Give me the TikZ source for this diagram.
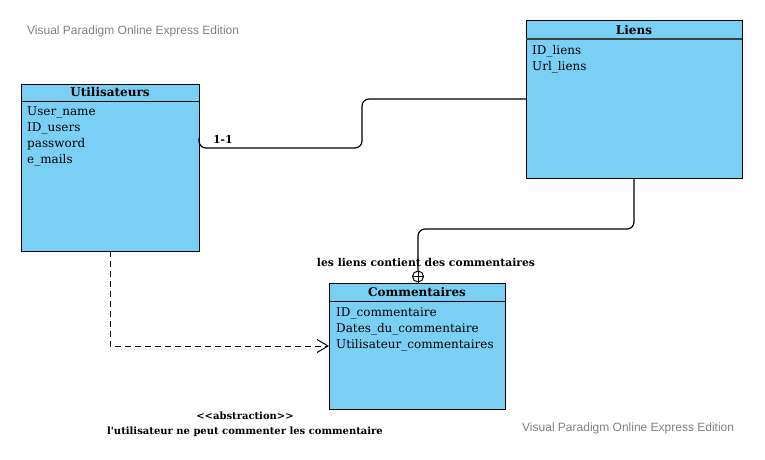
\documentclass[tikz,border=0pt]{standalone}
\usepackage{fontspec}
\usetikzlibrary{arrows.meta,calc}
\newfontfamily\dvserif{DejaVu Serif}
\newfontfamily\wmfont{Liberation Sans}
\definecolor{entblue}{RGB}{122,207,245}
\definecolor{wmgray}{RGB}{128,128,128}
\tikzset{
  entity/.style={draw=black,fill=entblue,line width=1pt,inner sep=0pt,outer sep=0pt,anchor=north west},
  ehead/.style={font=\dvserif\bfseries\fontsize{12}{14}\selectfont,anchor=center},
  attr/.style={font=\dvserif\fontsize{12}{16}\selectfont,anchor=north west,inner sep=0pt,align=left},
  lbl/.style={font=\dvserif\bfseries\fontsize{10.8}{15}\selectfont,inner sep=0pt,align=center},
  wmark/.style={font=\wmfont\fontsize{12}{14}\selectfont,text=wmgray,inner sep=0pt}
}
\begin{document}
\begin{tikzpicture}[x=1pt,y=-1pt]
\useasboundingbox (0,0) rectangle (765,460);

% watermarks
\node[wmark,anchor=west] (wm1) at (27,31) {Visual Paradigm Online Express Edition};
\node[wmark,anchor=west] (wm2) at (522,428) {Visual Paradigm Online Express Edition};

% entities
\node[entity,minimum width=178pt,minimum height=167pt] (util) at (21,84) {};
\draw[line width=1pt] (util.north west |- 0,101) -- (util.north east |- 0,101);
\node[ehead] (utilh) at ($(util.north)+(0,8.5)$) {Utilisateurs};
\node[attr] (utila) at (27,107) {User\_name\\ID\_users\\password\\e\_mails};

\node[entity,minimum width=216pt,minimum height=157pt] (liens) at (526,21) {};
\draw[line width=1.3pt,black!75] (liens.north west |- 0,39) -- (liens.north east |- 0,39);
\node[ehead] (liensh) at ($(liens.north)+(0,9)$) {Liens};
\node[attr] (liensa) at (532,45) {ID\_liens\\Url\_liens};

\node[entity,minimum width=176pt,minimum height=126pt] (comm) at (329,283) {};
\draw[line width=1pt] (comm.north west |- 0,301) -- (comm.north east |- 0,301);
\node[ehead] (commh) at ($(comm.north)+(0,9)$) {Commentaires};
\node[attr] (comma) at (336,307) {ID\_commentaire\\Dates\_du\_commentaire\\Utilisateur\_commentaires};

% connectors
\draw[line width=1.2pt,rounded corners=7pt] ($(util.north east)+(0,54)$) |- (362,148) |- (liens.west |- 0,99);
\node[lbl,anchor=west] (card) at (213,139) {1-1};

\node[draw=black,line width=1pt,circle,minimum size=11pt,inner sep=0pt] (cp) at (418,276.5) {};
\draw[line width=1pt] (cp.north) -- (cp.south) (cp.west) -- (cp.east);
\draw[line width=1.2pt,rounded corners=7pt] (liens.south) |- (418,229) -- (cp.north);
\node[lbl] (contient) at (426,262) {les liens contient des commentaires};

\draw[line width=1pt,dashed,dash pattern=on 6pt off 4pt,-{Straight Barb[length=11pt,width=13pt,line width=1pt]}] (util.south) |- (comm.west);
\node[lbl,font=\dvserif\bfseries\fontsize{10}{15}\selectfont] (abst) at (245,424.5) {<{}<abstraction>{}>\\l'utilisateur ne peut commenter les commentaire};
\end{tikzpicture}
\end{document}
